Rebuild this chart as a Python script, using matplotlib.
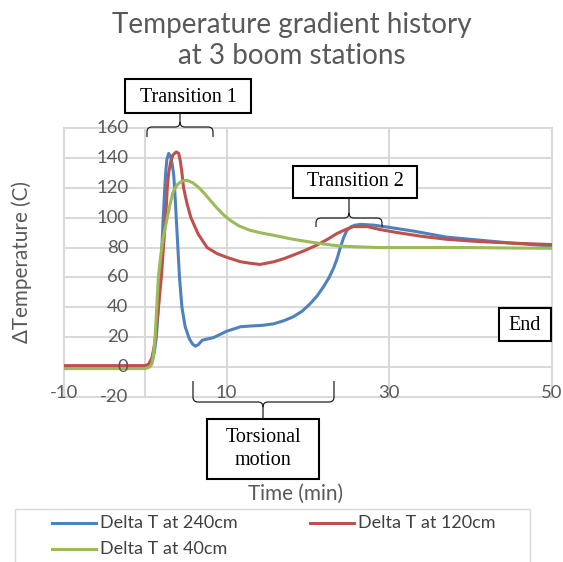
import matplotlib
matplotlib.use("Agg")
import matplotlib.pyplot as plt
from matplotlib.transforms import Affine2D
from matplotlib.patches import Rectangle, PathPatch
from matplotlib.path import Path
from matplotlib.lines import Line2D

# ---------------- data ----------------
x_240 = [-10, -5, -1, 0, 0.4, 0.6, 0.9, 1.1, 1.35, 1.6, 1.85, 2.05, 2.2, 2.35, 2.5, 2.65, 2.87,
         3.1, 3.3, 3.5, 3.65, 3.8, 4.0, 4.2, 4.5, 4.9, 5.4, 5.8, 6.15, 6.5, 7.0, 8.4, 10, 11.7,
         12.9, 14.5, 15.8, 17, 18.2, 19.3, 20.3, 21.1, 21.9, 22.6, 23.2, 23.6, 24.0, 24.4, 24.8,
         25.3, 25.8, 26.5, 28.1, 30, 33, 37, 41, 45, 50]
y_240 = [0, 0, 0, 0, 0.5, 1.5, 5, 10, 20, 40, 60, 82, 100, 116, 130, 139, 143,
         141, 136, 128, 115, 100, 80, 60, 40, 27, 19, 15.5, 14, 15, 18, 19.8, 24, 27,
         27.5, 28, 29, 31, 33.7, 37.5, 42.6, 47.5, 53.7, 60, 67, 73, 80.5, 87, 91.7,
         94, 95, 95.5, 95, 93.5, 91, 87, 85, 83, 81]

x_120 = [-10, -5, -1, 0, 0.4, 0.8, 1.1, 1.4, 1.7, 2.0, 2.25, 2.5, 2.7, 2.87, 3.1, 3.4, 3.8,
         4.1, 4.3, 4.5, 4.7, 5.1, 5.6, 6.5, 7.6, 8.8, 10, 11.7, 12.9, 14.1, 15.8, 17, 18.2,
         19.6, 21.1, 22.4, 23.6, 24.6, 25.6, 27.3, 28.9, 31, 34, 37.1, 41, 45, 50]
y_120 = [1, 1, 1, 1, 2, 6, 14, 28, 45, 62, 82, 100, 120, 130, 137, 142, 144,
         143, 138, 130, 120, 110, 100, 89, 80, 76, 73.5, 70.5, 69.5, 68.7, 70.5, 72.5, 75,
         78, 81.7, 85.5, 89.5, 92, 94, 94, 92, 90, 87.5, 85.5, 84, 83, 82]

x_40 = [-10, -5, -1, 0, 0.5, 0.8, 1.0, 1.2, 1.4, 1.6, 1.9, 2.2, 2.7, 3.0, 3.4, 3.9, 4.5,
        5.1, 5.8, 6.6, 7.3, 8.0, 8.8, 9.6, 10.5, 11.5, 12.9, 14.5, 15.8, 18, 19.9, 22, 24, 26,
        28.9, 33, 40, 45, 50]
y_40 = [-1, -1, -1, -1, 0, 2, 8, 20, 40, 60, 75, 87, 100, 108, 117, 122, 124.5,
        125, 123.5, 120, 116, 111.5, 106.5, 102, 98, 94.5, 91.5, 89.5, 88.2, 85.7, 84, 82.3,
        81, 80.5, 80, 80, 80, 79.7, 79.5]

series_names = ["Delta T at 240cm", "Delta T at 120cm", "Delta T at 40cm"]
series_colors = ["#4F81BD", "#C0504D", "#9BBB59"]

x_ticks = [-10, 10, 30, 50]
y_ticks = [-20, 0, 20, 40, 60, 80, 100, 120, 140, 160]

# ---------------- figure ----------------
W, H = 563, 562
fig = plt.figure(figsize=(W / 100, H / 100), dpi=100)
PX = Affine2D().scale(1 / W, -1 / H).translate(0, 1) + fig.transFigure
FONT = ["Lato", "DejaVu Sans"]
SERIF = ["Liberation Serif", "DejaVu Serif"]
GRID = "#D9D9D9"
TXT = "#595959"

ax = fig.add_axes([64 / W, 1 - 397 / H, (552 - 64) / W, (397 - 128) / H])
ax.set_xlim(-10, 50)
ax.set_ylim(-20, 160)
ax.set_xticks(x_ticks)
ax.set_yticks(y_ticks)
ax.tick_params(length=0, labelleft=False, labelbottom=False)
for s in ax.spines.values():
    s.set_visible(False)
ax.grid(True, color=GRID, lw=1.5)
ax.set_axisbelow(True)
for gl in ax.get_xgridlines() + ax.get_ygridlines():
    gl.set_clip_on(False)
ax.axvline(0, color=GRID, lw=1.5, zorder=0.5)

lines = []
for xs, ys, c in zip([x_240, x_120, x_40], [y_240, y_120, y_40], series_colors):
    ln, = ax.plot(xs, ys, color=c, lw=2.2, solid_capstyle="round", solid_joinstyle="round")
    lines.append(ln)

renderer = fig.canvas.get_renderer()


def fit(t, target, dim="w"):
    bb = t.get_window_extent(renderer)
    cur = bb.width if dim == "w" else bb.height
    t.set_fontsize(t.get_fontsize() * target / cur)
    return t.get_fontsize()


# tick labels
ytk = []
for v in y_ticks:
    t = ax.annotate(str(v), xy=(0, v), xytext=(-17, 0), textcoords="offset pixels",
                    ha="right", va="center", color=TXT, family=FONT, fontsize=12)
    ytk.append(t)
xtk = []
for v in x_ticks:
    t = ax.annotate(str(v), xy=(v, -20), xytext=(0, 4), textcoords="offset pixels",
                    ha="center", va="center", color=TXT, family=FONT, fontsize=12)
    xtk.append(t)
fs = fit(ytk[-1], 32)  # "160"
for t in ytk + xtk:
    t.set_fontsize(fs)

# title
t1 = fig.text(292, 33, "Temperature gradient history", transform=PX, ha="center",
              va="baseline", color=TXT, family=FONT, fontsize=18)
fs = fit(t1, 358)
fig.text(292, 64, "at 3 boom stations", transform=PX, ha="center", va="baseline",
         color=TXT, family=FONT, fontsize=fs)

# axis labels
yl = fig.text(22, 262, "\u0394Temperature (C)", transform=PX, rotation=90, ha="center",
              va="center", color=TXT, family=FONT, fontsize=13)
fit(yl, 161, "h")
xl = fig.text(295, 494, "Time (min)", transform=PX, ha="center", va="center",
              color=TXT, family=FONT, fontsize=13)
fit(xl, 95)

# legend (manual, using the plotted lines' styles)
fig.patches.append(Rectangle((15, 509), 515, 100, transform=PX, fill=False,
                             edgecolor=GRID, lw=1.0))
leg_pos = [(52, 523), (310, 523), (52, 549)]
lt = []
for (lx, ly), ln, name in zip(leg_pos, lines, series_names):
    fig.lines.append(Line2D([lx, lx + 44], [ly, ly], transform=PX, color=ln.get_color(),
                            lw=ln.get_linewidth()))
    t = fig.text(lx + 48, ly, name, transform=PX, ha="left", va="center",
                 color="#404040", family=FONT, fontsize=12)
    lt.append(t)
fs = fit(lt[0], 137)
for t in lt:
    t.set_fontsize(fs)


# annotation boxes and braces
def box(x0, y0, x1, y1, text, cx, cy):
    fig.patches.append(Rectangle((x0, y0), x1 - x0, y1 - y0, transform=PX,
                                 facecolor="white", edgecolor="black", lw=1.5, zorder=5))
    return fig.text(cx, cy, text, transform=PX, ha="center", va="center", color="black",
                    family=SERIF, fontsize=14, zorder=6, linespacing=1.25)


def brace(x0, x1, xc, ym, yleg, ytip):
    s = 1 if yleg > ym else -1
    r = 5
    verts = [(x0, yleg), (x0, ym + s * r), (x0, ym), (x0 + r, ym),
             (xc - r, ym), (xc, ym), (xc, ym - s * r), (xc, ytip),
             (xc, ym - s * r), (xc, ym), (xc + r, ym),
             (x1 - r, ym), (x1, ym), (x1, ym + s * r), (x1, yleg)]
    codes = [Path.MOVETO, Path.LINETO, Path.CURVE3, Path.CURVE3,
             Path.LINETO, Path.CURVE3, Path.CURVE3, Path.LINETO,
             Path.MOVETO, Path.CURVE3, Path.CURVE3,
             Path.LINETO, Path.CURVE3, Path.CURVE3, Path.LINETO]
    fig.patches.append(PathPatch(Path(verts, codes), transform=PX, fill=False,
                                 edgecolor="#222222", lw=0.9, zorder=5))


b1 = box(125, 79, 251, 113, "Transition 1", 188, 97)
fs = fit(b1, 98)
b2 = box(293, 166, 417, 198, "Transition 2", 355, 182)
b2.set_fontsize(fs)
b3 = box(207, 419, 319, 479, "Torsional\nmotion", 263, 449)
b3.set_fontsize(fs)
b4 = box(499, 308, 551, 341, "End", 525, 325)
b4.set_fontsize(fs)

brace(147, 213, 180, 127, 137, 113)
brace(316, 382, 349, 218, 227, 198)
brace(193, 334, 263, 402, 381, 419)

fig.savefig("out.png", dpi=100)
